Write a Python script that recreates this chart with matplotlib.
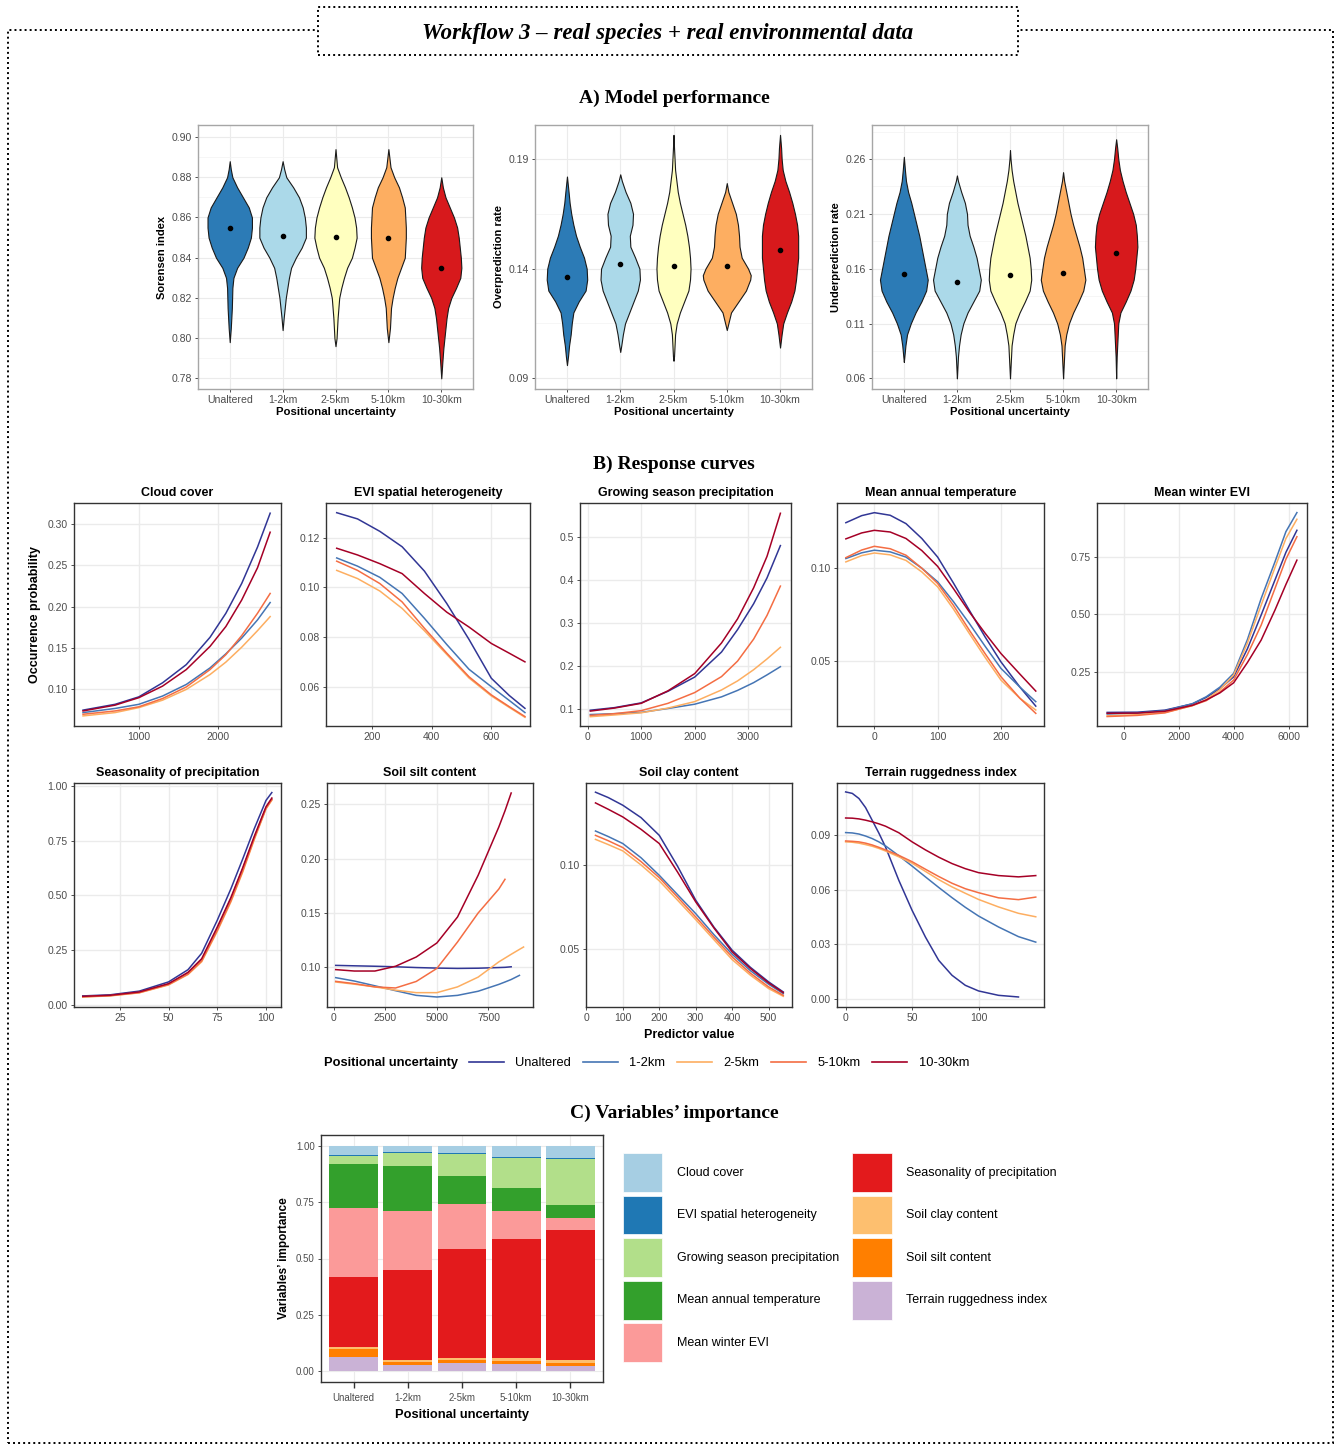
import numpy as np
import matplotlib.pyplot as plt
from matplotlib.patches import Rectangle, Patch
from matplotlib.lines import Line2D

W, H = 1338, 1445
plt.rcParams['font.family'] = ['Liberation Sans', 'DejaVu Sans']

# ==== DATA ====
GROUPS = ["Unaltered", "1-2km", "2-5km", "5-10km", "10-30km"]
VIOLIN_COLORS = ["#2C7BB6", "#ABD9E9", "#FFFFBF", "#FDAE61", "#D7191C"]
LINE_COLORS = ["#313695", "#4575B4", "#FDAE61", "#F46D43", "#A50026"]

# violin outlines: metric value levels and half widths (category units)
SOR_Y = [
    [0.888, 0.884, 0.880, 0.875, 0.870, 0.865, 0.860, 0.855, 0.850, 0.845, 0.840, 0.835, 0.830, 0.825, 0.815, 0.805, 0.798],
    [0.888, 0.884, 0.880, 0.875, 0.870, 0.865, 0.860, 0.855, 0.850, 0.845, 0.840, 0.835, 0.830, 0.825, 0.820, 0.815, 0.810, 0.804],
    [0.894, 0.885, 0.880, 0.875, 0.870, 0.865, 0.860, 0.855, 0.850, 0.845, 0.840, 0.835, 0.830, 0.825, 0.820, 0.810, 0.800, 0.796],
    [0.894, 0.885, 0.880, 0.875, 0.870, 0.865, 0.860, 0.855, 0.850, 0.845, 0.840, 0.835, 0.830, 0.825, 0.820, 0.815, 0.805, 0.798],
    [0.880, 0.875, 0.870, 0.865, 0.860, 0.855, 0.850, 0.845, 0.840, 0.835, 0.830, 0.825, 0.820, 0.815, 0.810, 0.805, 0.800, 0.795, 0.788, 0.780],
]
SOR_W = [
    [0, 0.02, 0.05, 0.14, 0.25, 0.36, 0.42, 0.42, 0.40, 0.34, 0.26, 0.14, 0.07, 0.05, 0.04, 0.02, 0],
    [0, 0.03, 0.07, 0.20, 0.31, 0.38, 0.42, 0.44, 0.44, 0.36, 0.25, 0.16, 0.12, 0.09, 0.06, 0.04, 0.02, 0],
    [0, 0.03, 0.10, 0.18, 0.25, 0.31, 0.36, 0.39, 0.40, 0.36, 0.31, 0.22, 0.16, 0.11, 0.07, 0.04, 0.02, 0],
    [0, 0.04, 0.11, 0.20, 0.26, 0.31, 0.32, 0.33, 0.33, 0.32, 0.31, 0.24, 0.17, 0.12, 0.08, 0.05, 0.03, 0],
    [0, 0.03, 0.08, 0.16, 0.24, 0.30, 0.33, 0.35, 0.37, 0.38, 0.36, 0.28, 0.19, 0.13, 0.10, 0.08, 0.06, 0.04, 0.02, 0],
]
SOR_MEAN = [0.8548, 0.8509, 0.8503, 0.8500, 0.8347]

OVER_Y = [
    [0.182, 0.175, 0.170, 0.165, 0.160, 0.155, 0.150, 0.145, 0.140, 0.135, 0.130, 0.125, 0.120, 0.115, 0.110, 0.105, 0.100, 0.096],
    [0.183, 0.180, 0.175, 0.170, 0.165, 0.160, 0.155, 0.150, 0.145, 0.140, 0.135, 0.130, 0.125, 0.120, 0.115, 0.110, 0.105, 0.102],
    [0.201, 0.195, 0.185, 0.175, 0.170, 0.165, 0.160, 0.155, 0.150, 0.145, 0.140, 0.135, 0.130, 0.125, 0.120, 0.115, 0.110, 0.100, 0.098],
    [0.179, 0.175, 0.170, 0.165, 0.160, 0.155, 0.150, 0.145, 0.140, 0.137, 0.135, 0.130, 0.125, 0.120, 0.115, 0.112],
    [0.201, 0.195, 0.190, 0.185, 0.180, 0.175, 0.170, 0.165, 0.160, 0.155, 0.150, 0.145, 0.140, 0.135, 0.130, 0.125, 0.120, 0.115, 0.110, 0.104],
]
OVER_W = [
    [0, 0.03, 0.05, 0.08, 0.12, 0.17, 0.24, 0.32, 0.37, 0.38, 0.35, 0.22, 0.12, 0.09, 0.07, 0.04, 0.02, 0],
    [0, 0.03, 0.10, 0.19, 0.24, 0.23, 0.18, 0.19, 0.28, 0.36, 0.37, 0.33, 0.25, 0.17, 0.09, 0.05, 0.02, 0],
    [0, 0.01, 0.03, 0.08, 0.12, 0.17, 0.22, 0.26, 0.29, 0.31, 0.32, 0.31, 0.28, 0.20, 0.12, 0.06, 0.03, 0.01, 0],
    [0, 0.03, 0.10, 0.17, 0.21, 0.23, 0.24, 0.28, 0.40, 0.45, 0.44, 0.36, 0.22, 0.08, 0.03, 0],
    [0, 0.02, 0.03, 0.05, 0.10, 0.17, 0.23, 0.28, 0.32, 0.34, 0.34, 0.34, 0.32, 0.30, 0.27, 0.21, 0.13, 0.06, 0.03, 0],
]
OVER_MEAN = [0.1363, 0.1420, 0.1410, 0.1410, 0.1487]

UNDER_Y = [
    [0.262, 0.25, 0.24, 0.23, 0.22, 0.21, 0.20, 0.19, 0.18, 0.17, 0.16, 0.15, 0.14, 0.13, 0.12, 0.11, 0.10, 0.09, 0.08, 0.075],
    [0.245, 0.24, 0.23, 0.22, 0.21, 0.20, 0.19, 0.18, 0.17, 0.16, 0.15, 0.14, 0.13, 0.12, 0.11, 0.10, 0.09, 0.08, 0.07, 0.06],
    [0.268, 0.26, 0.25, 0.24, 0.23, 0.22, 0.21, 0.20, 0.19, 0.18, 0.17, 0.16, 0.15, 0.14, 0.13, 0.12, 0.11, 0.10, 0.09, 0.07, 0.06],
    [0.248, 0.24, 0.23, 0.22, 0.21, 0.20, 0.19, 0.18, 0.17, 0.16, 0.15, 0.14, 0.13, 0.12, 0.11, 0.10, 0.09, 0.07, 0.06],
    [0.278, 0.27, 0.26, 0.25, 0.24, 0.23, 0.22, 0.21, 0.20, 0.19, 0.18, 0.17, 0.16, 0.15, 0.14, 0.13, 0.12, 0.11, 0.10, 0.08, 0.06],
]
UNDER_W = [
    [0, 0.02, 0.04, 0.08, 0.14, 0.19, 0.24, 0.29, 0.33, 0.37, 0.41, 0.45, 0.42, 0.33, 0.22, 0.13, 0.06, 0.03, 0.01, 0],
    [0, 0.02, 0.08, 0.15, 0.19, 0.20, 0.24, 0.31, 0.37, 0.41, 0.45, 0.42, 0.31, 0.20, 0.12, 0.07, 0.04, 0.02, 0.01, 0],
    [0, 0.01, 0.03, 0.06, 0.10, 0.14, 0.19, 0.24, 0.29, 0.33, 0.37, 0.39, 0.40, 0.37, 0.28, 0.18, 0.10, 0.06, 0.03, 0.01, 0],
    [0, 0.02, 0.06, 0.10, 0.14, 0.19, 0.25, 0.31, 0.36, 0.39, 0.42, 0.38, 0.29, 0.19, 0.11, 0.06, 0.03, 0.01, 0],
    [0, 0.02, 0.04, 0.07, 0.12, 0.18, 0.25, 0.32, 0.37, 0.39, 0.40, 0.38, 0.36, 0.33, 0.27, 0.18, 0.08, 0.04, 0.03, 0.01, 0],
]
UNDER_MEAN = [0.1553, 0.1483, 0.1544, 0.1560, 0.1740]

# response curves, one list per group (Unaltered, 1-2km, 2-5km, 5-10km, 10-30km)
CLOUD_X = [295, 700, 1000, 1300, 1600, 1900, 2100, 2300, 2500, 2660]
CLOUD_Y = [
    [0.075, 0.082, 0.091, 0.108, 0.130, 0.163, 0.192, 0.228, 0.272, 0.313],
    [0.072, 0.077, 0.082, 0.092, 0.106, 0.126, 0.143, 0.162, 0.184, 0.205],
    [0.068, 0.072, 0.078, 0.087, 0.100, 0.118, 0.133, 0.151, 0.171, 0.188],
    [0.070, 0.074, 0.079, 0.089, 0.103, 0.124, 0.142, 0.165, 0.192, 0.216],
    [0.074, 0.081, 0.090, 0.104, 0.124, 0.152, 0.176, 0.208, 0.247, 0.290],
]
EVI_X = [80, 150, 225, 300, 375, 450, 525, 600, 660, 713]
EVI_Y = [
    [0.1300, 0.1275, 0.1225, 0.1163, 0.1065, 0.0935, 0.0790, 0.0634, 0.0565, 0.0513],
    [0.1118, 0.1085, 0.1040, 0.0975, 0.0875, 0.0770, 0.0670, 0.0600, 0.0545, 0.0496],
    [0.1068, 0.1035, 0.0985, 0.0915, 0.0825, 0.0730, 0.0635, 0.0563, 0.0517, 0.0477],
    [0.1105, 0.1068, 0.1015, 0.0941, 0.0835, 0.0735, 0.0640, 0.0567, 0.0520, 0.0480],
    [0.1157, 0.1130, 0.1095, 0.1055, 0.0975, 0.0900, 0.0840, 0.0774, 0.0735, 0.0700],
]
GSP_X = [50, 500, 1000, 1500, 2000, 2500, 2800, 3100, 3350, 3600]
GSP_Y = [
    [0.098, 0.104, 0.115, 0.142, 0.175, 0.233, 0.285, 0.345, 0.405, 0.480],
    [0.088, 0.090, 0.093, 0.102, 0.112, 0.129, 0.144, 0.162, 0.180, 0.199],
    [0.083, 0.087, 0.092, 0.103, 0.118, 0.145, 0.166, 0.192, 0.217, 0.244],
    [0.086, 0.090, 0.097, 0.114, 0.139, 0.176, 0.212, 0.263, 0.318, 0.386],
    [0.096, 0.103, 0.114, 0.143, 0.183, 0.254, 0.310, 0.382, 0.455, 0.555],
]
MAT_X = [-45, -20, 0, 25, 50, 75, 100, 125, 150, 175, 200, 230, 255]
MAT_Y = [
    [0.1245, 0.1283, 0.1299, 0.1285, 0.1240, 0.1160, 0.1060, 0.0920, 0.0774, 0.0630, 0.0496, 0.0360, 0.0258],
    [0.1052, 0.1083, 0.1097, 0.1088, 0.1060, 0.1000, 0.0927, 0.0820, 0.0703, 0.0580, 0.0461, 0.0360, 0.0282],
    [0.1034, 0.1068, 0.1082, 0.1072, 0.1042, 0.0980, 0.0900, 0.0780, 0.0649, 0.0520, 0.0398, 0.0300, 0.0237],
    [0.1057, 0.1098, 0.1118, 0.1105, 0.1070, 0.1000, 0.0918, 0.0800, 0.0667, 0.0540, 0.0416, 0.0300, 0.0219],
    [0.1158, 0.1190, 0.1204, 0.1195, 0.1160, 0.1095, 0.1010, 0.0890, 0.0765, 0.0650, 0.0541, 0.0430, 0.0339],
]
WEVI_X = [-600, 500, 1500, 2500, 3000, 3500, 4000, 4500, 5000, 5500, 5900, 6300]
WEVI_Y = [
    [0.073, 0.074, 0.083, 0.110, 0.138, 0.176, 0.228, 0.350, 0.497, 0.649, 0.770, 0.866],
    [0.066, 0.070, 0.080, 0.111, 0.141, 0.183, 0.243, 0.390, 0.569, 0.728, 0.860, 0.943],
    [0.058, 0.063, 0.073, 0.102, 0.129, 0.172, 0.236, 0.375, 0.540, 0.703, 0.830, 0.914],
    [0.055, 0.060, 0.071, 0.103, 0.124, 0.162, 0.214, 0.325, 0.453, 0.612, 0.740, 0.838],
    [0.069, 0.070, 0.078, 0.104, 0.127, 0.158, 0.202, 0.290, 0.388, 0.518, 0.630, 0.736],
]
SEAS_X = [6, 20, 35, 50, 60, 67, 75, 82, 88, 94, 100, 103]
SEAS_Y = [
    [0.040, 0.045, 0.062, 0.104, 0.160, 0.235, 0.386, 0.530, 0.665, 0.805, 0.934, 0.970],
    [0.037, 0.042, 0.057, 0.094, 0.145, 0.205, 0.348, 0.485, 0.620, 0.765, 0.900, 0.940],
    [0.035, 0.040, 0.054, 0.090, 0.138, 0.196, 0.335, 0.470, 0.605, 0.755, 0.895, 0.935],
    [0.036, 0.041, 0.055, 0.092, 0.140, 0.200, 0.340, 0.475, 0.610, 0.760, 0.898, 0.938],
    [0.038, 0.043, 0.058, 0.096, 0.148, 0.210, 0.355, 0.490, 0.625, 0.770, 0.905, 0.945],
]
SILT_X = [100, 1000, 2000, 3000, 4000, 5000, 6000, 7000, 8000, 8300, 8600, 9000, 9200]
SILT_Y = [
    [0.1018, 0.1014, 0.1010, 0.1005, 0.0998, 0.0993, 0.0990, 0.0992, 0.0998, 0.1000, 0.1005, None, None],
    [0.0905, 0.0874, 0.0830, 0.0785, 0.0742, 0.0727, 0.0742, 0.0780, 0.0843, 0.0865, 0.0888, 0.0926, None],
    [0.0865, 0.0845, 0.0820, 0.0790, 0.0767, 0.0767, 0.0820, 0.0910, 0.1050, 0.1085, 0.1120, 0.1165, 0.1187],
    [0.0871, 0.0850, 0.0820, 0.0810, 0.0870, 0.0990, 0.1233, 0.1500, 0.1720, 0.1810, None, None, None],
    [0.0979, 0.0966, 0.0966, 0.1010, 0.1095, 0.1224, 0.1463, 0.1847, 0.2291, 0.2440, 0.2604, None, None],
]
CLAY_X = [25, 60, 100, 150, 200, 250, 300, 350, 400, 450, 500, 540]
CLAY_Y = [
    [0.1437, 0.1405, 0.1359, 0.1285, 0.1179, 0.0995, 0.0791, 0.0630, 0.0492, 0.0390, 0.0303, 0.0243],
    [0.1205, 0.1172, 0.1130, 0.1045, 0.0940, 0.0825, 0.0711, 0.0585, 0.0468, 0.0370, 0.0289, 0.0233],
    [0.1155, 0.1124, 0.1086, 0.1002, 0.0907, 0.0792, 0.0675, 0.0555, 0.0436, 0.0343, 0.0263, 0.0217],
    [0.1179, 0.1147, 0.1106, 0.1022, 0.0926, 0.0810, 0.0691, 0.0570, 0.0452, 0.0355, 0.0273, 0.0223],
    [0.1373, 0.1335, 0.1289, 0.1215, 0.1130, 0.0960, 0.0781, 0.0625, 0.0482, 0.0383, 0.0297, 0.0239],
]
TRI_X = [0, 5, 10, 15, 20, 25, 30, 40, 50, 60, 70, 80, 90, 100, 115, 130, 143]
TRI_Y = [
    [0.1136, 0.1128, 0.1100, 0.1050, 0.0980, 0.0910, 0.0834, 0.0651, 0.0486, 0.0340, 0.0212, 0.0130, 0.0075, 0.0044, 0.0020, 0.0011, None],
    [0.0913, 0.0911, 0.0905, 0.0894, 0.0880, 0.0862, 0.0840, 0.0786, 0.0729, 0.0670, 0.0612, 0.0556, 0.0503, 0.0455, 0.0395, 0.0342, 0.0312],
    [0.0862, 0.0860, 0.0855, 0.0847, 0.0838, 0.0826, 0.0812, 0.0780, 0.0745, 0.0700, 0.0655, 0.0615, 0.0580, 0.0546, 0.0505, 0.0470, 0.0451],
    [0.0867, 0.0865, 0.0862, 0.0855, 0.0845, 0.0832, 0.0818, 0.0788, 0.0753, 0.0712, 0.0672, 0.0635, 0.0605, 0.0583, 0.0555, 0.0545, 0.0559],
    [0.0993, 0.0992, 0.0988, 0.0981, 0.0972, 0.0961, 0.0948, 0.0912, 0.0862, 0.0818, 0.0778, 0.0743, 0.0715, 0.0693, 0.0677, 0.0670, 0.0677],
]

# variable importance (stack order bottom -> top)
VARS = ["Terrain ruggedness index", "Soil silt content", "Soil clay content",
        "Seasonality of precipitation", "Mean winter EVI", "Mean annual temperature",
        "Growing season precipitation", "EVI spatial heterogeneity", "Cloud cover"]
VAR_COLORS = ["#CAB2D6", "#FF7F00", "#FDBF6F", "#E31A1C", "#FB9A99",
              "#33A02C", "#B2DF8A", "#1F78B4", "#A6CEE3"]
IMP_TERRAIN = [0.062, 0.025, 0.036, 0.031, 0.021]
IMP_SILT = [0.033, 0.013, 0.010, 0.012, 0.015]
IMP_CLAY = [0.012, 0.012, 0.012, 0.013, 0.014]
IMP_SEAS = [0.312, 0.397, 0.485, 0.530, 0.577]
IMP_WEVI = [0.304, 0.265, 0.198, 0.126, 0.052]
IMP_MAT = [0.196, 0.202, 0.126, 0.100, 0.058]
IMP_GSP = [0.037, 0.056, 0.097, 0.135, 0.204]
IMP_EVISH = [0.007, 0.005, 0.008, 0.007, 0.007]
IMP_CLOUD = [0.037, 0.025, 0.028, 0.046, 0.052]

TICK_GRAY = "#4D4D4D"
GRID = "#EBEBEB"

fig = plt.figure(figsize=(W / 100, H / 100), dpi=100)


def add_ax(x0, y0, x1, y1):
    return fig.add_axes([x0 / W, 1 - y1 / H, (x1 - x0) / W, (y1 - y0) / H])


def style(ax, border, size=7):
    for s in ax.spines.values():
        s.set_color(border)
        s.set_linewidth(1.0)
    ax.tick_params(colors="#333333", labelcolor=TICK_GRAY, labelsize=size,
                   length=2.5, width=0.6, pad=2)
    ax.set_axisbelow(True)


# ==== frame + titles ====
fig.add_artist(Rectangle((8 / W, 1 - 1443 / H), (1333 - 8) / W, (1443 - 30) / H,
                         transform=fig.transFigure, fill=False, lw=1.4,
                         ls=(0, (1, 1.6)), ec="black"))
fig.add_artist(Rectangle((318 / W, 1 - 55 / H), 700 / W, 48 / H,
                         transform=fig.transFigure, fc="white", lw=1.4,
                         ls=(0, (1, 1.6)), ec="black"))
fig.text(668 / W, 1 - 33 / H, "Workflow 3 \u2013 real species + real environmental data",
         family="Liberation Serif", style="italic", weight="bold", fontsize=16.5,
         ha="center", va="center")
for label, yy in [("A) Model performance", 98), ("B) Response curves", 464),
                  ("C) Variables\u2019 importance", 1113)]:
    fig.text(674 / W, 1 - yy / H, label, family="Liberation Serif", weight="bold",
             fontsize=14, ha="center", va="center")

# ==== A) violins ====
violin_specs = [
    ((198, 125, 473, 389), SOR_Y, SOR_W, SOR_MEAN, "Sorensen index", (0.7747, 0.906),
     [0.78, 0.80, 0.82, 0.84, 0.86, 0.88, 0.90], [0.79, 0.81, 0.83, 0.85, 0.87, 0.89]),
    ((535, 125, 812, 389), OVER_Y, OVER_W, OVER_MEAN, "Overprediction rate", (0.0851, 0.2055),
     [0.09, 0.14, 0.19], [0.115, 0.165]),
    ((872, 125, 1148, 389), UNDER_Y, UNDER_W, UNDER_MEAN, "Underprediction rate", (0.0503, 0.291),
     [0.06, 0.11, 0.16, 0.21, 0.26], [0.085, 0.135, 0.185, 0.235, 0.285]),
]
for box, vy, vw, vmean, ylab, ylim, major, minor in violin_specs:
    ax = add_ax(*box)
    style(ax, "#A6A6A6", 7.6)
    for i in range(5):
        y = np.array(vy[i])
        w = np.array(vw[i])
        ax.fill_betweenx(y, i + 1 - w, i + 1 + w, facecolor=VIOLIN_COLORS[i],
                         edgecolor="#1A1A1A", lw=0.8, zorder=2)
    ax.scatter(np.arange(1, 6), vmean, s=9, color="black", zorder=3)
    ax.set_xlim(0.4, 5.6)
    ax.set_ylim(*ylim)
    ax.set_xticks(np.arange(1, 6))
    ax.set_xticklabels(GROUPS)
    ax.set_yticks(major)
    ax.set_yticklabels(["%.2f" % v for v in major])
    ax.set_yticks(minor, minor=True)
    ax.tick_params(which="minor", length=0)
    ax.grid(True, which="major", color=GRID, lw=0.8)
    ax.grid(True, which="minor", axis="y", color="#F3F3F3", lw=0.5)
    ax.set_ylabel(ylab, fontsize=8, weight="bold", labelpad=3)
    ax.set_xlabel("Positional uncertainty", fontsize=8.2, weight="bold", labelpad=1)

# ==== B) response curves ====
curve_specs = [
    ((74, 503, 281, 726), "Cloud cover", CLOUD_X, CLOUD_Y, (181, 2797), (0.0558, 0.3253),
     [1000, 2000], "%d", [0.10, 0.15, 0.20, 0.25, 0.30], "%.2f"),
    ((326, 503, 530, 726), "EVI spatial heterogeneity", EVI_X, EVI_Y, (44, 730), (0.0442, 0.1339),
     [200, 400, 600], "%d", [0.06, 0.08, 0.10, 0.12], "%.2f"),
    ((580, 503, 791, 726), "Growing season precipitation", GSP_X, GSP_Y, (-143, 3798), (0.0614, 0.5788),
     [0, 1000, 2000, 3000], "%d", [0.1, 0.2, 0.3, 0.4, 0.5], "%.1f"),
    ((837, 503, 1044, 726), "Mean annual temperature", MAT_X, MAT_Y, (-59, 268), (0.0151, 0.1351),
     [0, 100, 200], "%d", [0.05, 0.10], "%.2f"),
    ((1097, 503, 1307, 726), "Mean winter EVI", WEVI_X, WEVI_Y, (-970, 6667), (0.0138, 0.9848),
     [0, 2000, 4000, 6000], "%d", [0.25, 0.50, 0.75], "%.2f"),
    ((74, 783, 281, 1007), "Seasonality of precipitation", SEAS_X, SEAS_Y, (1.5, 107.7), (-0.0107, 1.0137),
     [25, 50, 75, 100], "%d", [0.0, 0.25, 0.50, 0.75, 1.0], "%.2f"),
    ((327, 783, 533, 1007), "Soil silt content", SILT_X, SILT_Y, (-322, 9657), (0.0635, 0.2696),
     [0, 2500, 5000, 7500], "%d", [0.10, 0.15, 0.20, 0.25], "%.2f"),
    ((586, 783, 792, 1007), "Soil clay content", CLAY_X, CLAY_Y, (-1, 564), (0.0153, 0.1492),
     [0, 100, 200, 300, 400, 500], "%d", [0.05, 0.10], "%.2f"),
    ((837, 783, 1044, 1007), "Terrain ruggedness index", TRI_X, TRI_Y, (-6.5, 149.2), (-0.0044, 0.1185),
     [0, 50, 100], "%d", [0.00, 0.03, 0.06, 0.09], "%.2f"),
]
for box, title, xs, ys, xlim, ylim, xt, xf, yt, yf in curve_specs:
    ax = add_ax(*box)
    style(ax, "#333333", 7.5)
    for i, y in enumerate(ys):
        ax.plot(xs, np.array(y, dtype=float), color=LINE_COLORS[i], lw=1.1,
                solid_joinstyle="round")
    ax.set_xlim(*xlim)
    ax.set_ylim(*ylim)
    ax.set_xticks(xt)
    ax.set_xticklabels([xf % v for v in xt])
    ax.set_yticks(yt)
    ax.set_yticklabels([yf % v for v in yt])
    ax.grid(True, color=GRID, lw=1.0)
    ax.set_title(title, fontsize=9, weight="bold", pad=5)
    if title == "Cloud cover":
        ax.set_ylabel("Occurrence probability", fontsize=9, weight="bold", labelpad=5)
    if title == "Soil clay content":
        ax.set_xlabel("Predictor value", fontsize=9, weight="bold", labelpad=4)

fig.text(324 / W, 1 - 1063 / H, "Positional uncertainty", fontsize=9.3, weight="bold",
         ha="left", va="center")
line_handles = [Line2D([], [], color=c, lw=1.2) for c in LINE_COLORS]
fig.legend(line_handles, GROUPS, loc="center left", bbox_to_anchor=(469 / W, 1 - 1063 / H),
           ncol=5, frameon=False, fontsize=9.3, handlelength=2.7, handletextpad=0.9,
           columnspacing=0.9, borderpad=0, borderaxespad=0)

# ==== C) variables' importance ====
ax = add_ax(321, 1135, 603, 1382)
style(ax, "#333333", 7)
imp = [IMP_TERRAIN, IMP_SILT, IMP_CLAY, IMP_SEAS, IMP_WEVI, IMP_MAT, IMP_GSP, IMP_EVISH, IMP_CLOUD]
xpos = np.arange(1, 6)
bottom = np.zeros(5)
for vals, col, name in zip(imp, VAR_COLORS, VARS):
    ax.bar(xpos, vals, bottom=bottom, width=0.9, color=col, lw=0, label=name)
    bottom += np.array(vals)
ax.set_xlim(0.4, 5.6)
ax.set_ylim(-0.05, 1.05)
ax.set_xticks(xpos)
ax.set_xticklabels(GROUPS)
ax.set_yticks([0, 0.25, 0.5, 0.75, 1.0])
ax.set_yticklabels(["0.00", "0.25", "0.50", "0.75", "1.00"])
ax.tick_params(axis="x", length=4, width=1.0, pad=4)
ax.grid(True, color=GRID, lw=0.8)
ax.set_ylabel("Variables\u2019 importance", fontsize=8.5, weight="bold", labelpad=4)
ax.set_xlabel("Positional uncertainty", fontsize=9.3, weight="bold", labelpad=4)

legend_order = list(range(8, -1, -1))
bar_handles = [Patch(facecolor=VAR_COLORS[k], edgecolor="white", lw=0.5) for k in legend_order]
fig.legend(bar_handles, [VARS[k] for k in legend_order], loc="upper left",
           bbox_to_anchor=(623 / W, 1 - 1153 / H), ncol=2, frameon=False, fontsize=9,
           handlelength=3.15, handleheight=4.4, handletextpad=1.2, labelspacing=0.3,
           columnspacing=1.0, borderpad=0, borderaxespad=0)

fig.savefig("out.png", dpi=100, facecolor="white")
